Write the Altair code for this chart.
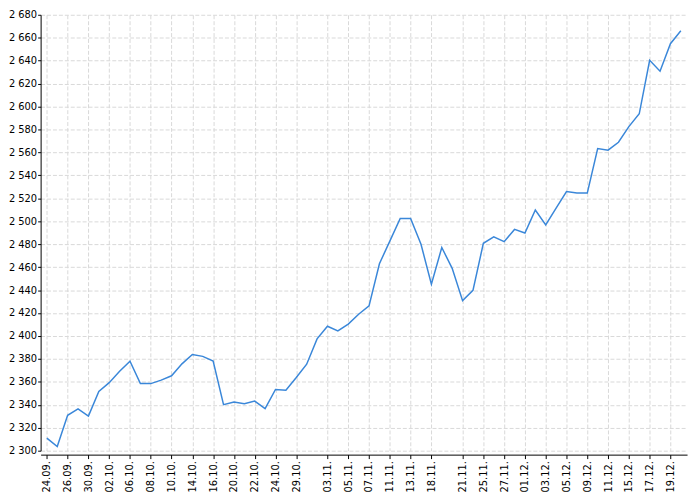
import altair as alt
import pandas as pd

dates = [
    "24.09.", "25.09.", "26.09.", "29.09.", "30.09.", "01.10.", "02.10.", "03.10.",
    "06.10.", "07.10.", "08.10.", "09.10.", "10.10.", "13.10.", "14.10.", "15.10.",
    "16.10.", "17.10.", "20.10.", "21.10.", "22.10.", "23.10.", "24.10.", "27.10.",
    "29.10.", "30.10.", "31.10.", "03.11.", "04.11.", "05.11.", "06.11.", "07.11.",
    "10.11.", "11.11.", "12.11.", "13.11.", "14.11.", "18.11.", "19.11.", "20.11.",
    "21.11.", "24.11.", "25.11.", "26.11.", "27.11.", "28.11.", "01.12.", "02.12.",
    "03.12.", "04.12.", "05.12.", "08.12.", "09.12.", "10.12.", "11.12.", "12.12.",
    "15.12.", "16.12.", "17.12.", "18.12.", "19.12.", "22.12.",
]

values = [
    2311.0, 2303.6, 2330.8, 2336.4, 2330.2, 2351.7, 2359.3, 2369.2,
    2378.0, 2358.5, 2358.5, 2361.5, 2365.3, 2375.7, 2383.9, 2382.2,
    2378.2, 2340.1, 2342.4, 2340.9, 2343.2, 2336.7, 2353.4, 2352.8,
    2363.8, 2375.4, 2397.5, 2408.5, 2404.5, 2410.4, 2418.9, 2426.3,
    2463.0, 2482.7, 2502.5, 2502.5, 2479.9, 2445.2, 2477.1, 2459.0,
    2430.8, 2439.8, 2480.8, 2486.4, 2482.2, 2492.9, 2489.8, 2509.8,
    2496.9, 2511.5, 2525.9, 2524.6, 2524.6, 2563.4, 2562.0, 2568.9,
    2582.5, 2593.7, 2640.3, 2630.8, 2654.8, 2666.1,
]

tick_labels = [
    "24.09.", "26.09.", "30.09.", "02.10.", "06.10.", "08.10.", "10.10.", "14.10.",
    "16.10.", "20.10.", "22.10.", "24.10.", "29.10.", "03.11.", "05.11.", "07.11.",
    "11.11.", "13.11.", "18.11.", "21.11.", "25.11.", "27.11.", "01.12.", "03.12.",
    "05.12.", "09.12.", "11.12.", "15.12.", "17.12.", "19.12.",
]

y_ticks = list(range(2300, 2681, 20))

df = pd.DataFrame({"date": dates, "value": values})

chart = alt.Chart(df).mark_line(color="#3a87d9", strokeWidth=1.5).encode(
    x=alt.X(
        "date:O",
        sort=dates,
        scale=alt.Scale(type="point", padding=0.6),
        axis=alt.Axis(
            values=tick_labels,
            labelAngle=270,
            title=None,
            offset=4,
            tickSize=4,
            labelPadding=2,
            grid=True,
        ),
    ),
    y=alt.Y(
        "value:Q",
        scale=alt.Scale(domain=[2300, 2680], nice=False, zero=False),
        axis=alt.Axis(
            values=y_ticks,
            labelExpr="replace(format(datum.value, ','), ',', ' ')",
            title=None,
            tickSize=3,
            labelPadding=1,
            grid=True,
        ),
    ),
).properties(
    width=654,
    height=441,
    autosize="none",
    padding={"left": 33, "top": 4, "right": 5, "bottom": 45},
).configure_view(
    stroke=None
).configure_axis(
    labelFont="DejaVu Sans",
    labelFontSize=10,
    labelColor="#000000",
    domainColor="#000000",
    tickColor="#000000",
    gridColor="#d9d9d9",
    gridDash=[4, 2],
    gridWidth=1,
)

chart.save("out.html", embed_options={"renderer": "svg", "actions": False})
